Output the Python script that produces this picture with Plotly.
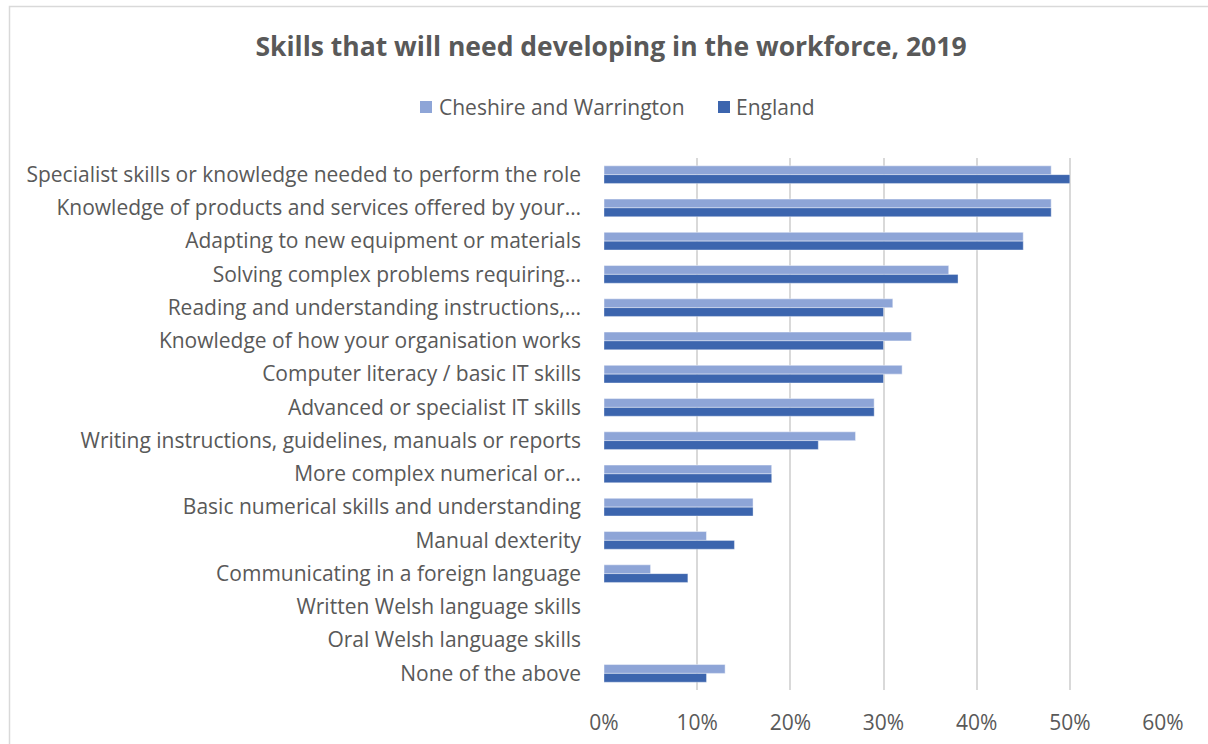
import plotly.graph_objects as go

# Survey categories, listed top to bottom
skills = [
    "Specialist skills or knowledge needed to perform the role",
    "Knowledge of products and services offered by your…",
    "Adapting to new equipment or materials",
    "Solving complex problems requiring…",
    "Reading and understanding instructions,…",
    "Knowledge of how your organisation works",
    "Computer literacy / basic IT skills",
    "Advanced or specialist IT skills",
    "Writing instructions, guidelines, manuals or reports",
    "More complex numerical or…",
    "Basic numerical skills and understanding",
    "Manual dexterity",
    "Communicating in a foreign language",
    "Written Welsh language skills",
    "Oral Welsh language skills",
    "None of the above",
]

# Share of employers (fraction) reporting the skill needs developing
cheshire_warrington = [0.48, 0.48, 0.45, 0.37, 0.31, 0.33, 0.32, 0.29, 0.27, 0.18, 0.16, 0.11, 0.05, 0.0, 0.0, 0.13]
england = [0.50, 0.48, 0.45, 0.38, 0.30, 0.30, 0.30, 0.29, 0.23, 0.18, 0.16, 0.14, 0.09, 0.0, 0.0, 0.11]

series_names = ["Cheshire and Warrington", "England"]
series_colors = ["#8EA5D7", "#3C65AE"]

x_ticks = [0, 0.1, 0.2, 0.3, 0.4, 0.5, 0.6]
x_tick_text = ["0%", "10%", "20%", "30%", "40%", "50%", "60%"]

FONT = "Open Sans"
TEXT = "#595959"
GRID = "#D9D9D9"
LABEL_SIZE = 21

fig = go.Figure()
for name, vals, col, edge in zip(series_names, [cheshire_warrington, england], series_colors,
                                 ["rgba(255,255,255,0.45)", "rgba(255,255,255,0.35)"]):
    fig.add_trace(go.Bar(
        name=name, y=skills, x=vals, orientation="h",
        marker=dict(color=col, line=dict(color=edge, width=1)),
        showlegend=False,
    ))

W, H = 1208, 744
L, R, T, B = 604, 45, 158, 54
pw, ph = W - L - R, H - T - B

def px_x(p):
    return (p - L) / pw

def px_y(p):
    return (H - B - p) / ph

# Legend keys drawn as squares with text beside them
legend_items = [(420, 437), (718, 734)]
shapes = [dict(
    type="rect", xref="paper", yref="paper",
    x0=px_x(9.5), x1=px_x(1230), y0=px_y(760), y1=px_y(6.5),
    line=dict(color=GRID, width=1.5), fillcolor="rgba(0,0,0,0)", layer="below",
)]
annotations = []
for (sx, tx), name, col in zip(legend_items, series_names, series_colors):
    shapes.append(dict(
        type="rect", xref="paper", yref="paper",
        x0=px_x(sx), x1=px_x(sx + 12), y0=px_y(113), y1=px_y(101),
        line=dict(width=0), fillcolor=col,
    ))
    annotations.append(dict(
        text=name, xref="paper", yref="paper", x=px_x(tx), y=px_y(107),
        xanchor="left", yanchor="middle", showarrow=False,
        font=dict(family=FONT, size=LABEL_SIZE, color=TEXT),
    ))

fig.update_layout(
    width=W, height=H,
    margin=dict(l=L, r=R, t=T, b=B),
    paper_bgcolor="white", plot_bgcolor="white",
    barmode="group", bargap=0.47, bargroupgap=0,
    font=dict(family=FONT, color=TEXT, size=LABEL_SIZE),
    showlegend=False,
    title=dict(
        text="<b>Skills that will need developing in the workforce, 2019</b>",
        x=611 / W, xref="container", xanchor="center",
        y=1 - 47 / H, yref="container", yanchor="middle",
        font=dict(family=FONT, size=26.5, color=TEXT),
    ),
    xaxis=dict(
        range=[0, 0.6], tickvals=x_ticks, ticktext=x_tick_text,
        showgrid=True, gridcolor=GRID, gridwidth=2,
        zeroline=False, showline=False, ticks="",
        ticklabelstandoff=18, automargin=False,
        tickfont=dict(family=FONT, size=LABEL_SIZE, color=TEXT),
    ),
    yaxis=dict(
        autorange="reversed", showgrid=False, zeroline=False, showline=False,
        ticks="", ticklabelstandoff=22, automargin=False,
        tickfont=dict(family=FONT, size=LABEL_SIZE, color=TEXT),
    ),
    shapes=shapes,
    annotations=annotations,
)

fig.write_html("out.html")
